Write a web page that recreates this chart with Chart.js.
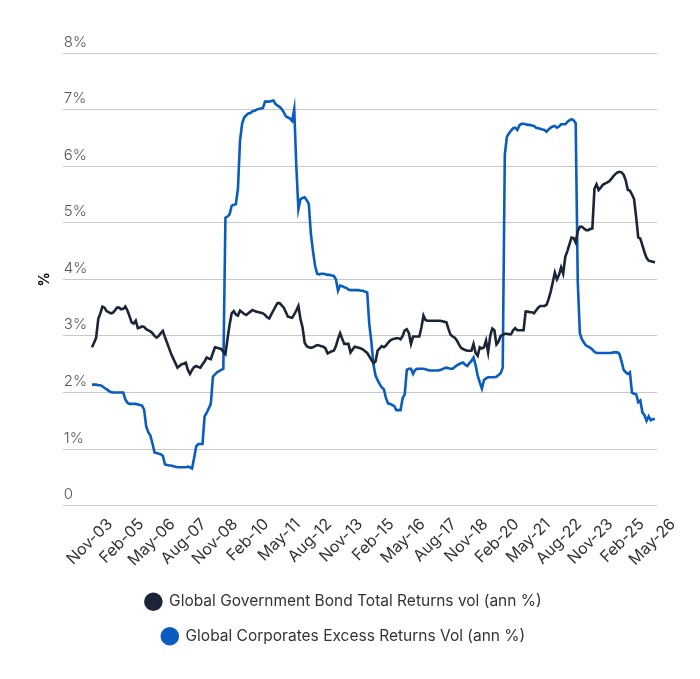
<!DOCTYPE html>
<html>
<head>
<meta charset="utf-8">
<script src="https://cdn.jsdelivr.net/npm/chart.js@4.4.1/dist/chart.umd.min.js"></script>
<style>
  html, body { margin: 0; padding: 0; background: #ffffff; }
  #wrap { width: 700px; height: 679px; position: relative; }
</style>
</head>
<body>
<div id="wrap"><canvas id="chart"></canvas></div>
<script>
// Monthly series, Nov-03 .. May-26 (271 months)
const xTickLabels = ['Nov-03','Feb-05','May-06','Aug-07','Nov-08','Feb-10','May-11','Aug-12','Nov-13','Feb-15','May-16','Aug-17','Nov-18','Feb-20','May-21','Aug-22','Nov-23','Feb-25','May-26'];
const xTickStep = 15; // months between tick labels
const yTickLabels = ['0','1%','2%','3%','4%','5%','6%','7%','8%'];
const seriesNames = ['Global Government Bond Total Returns vol (ann %)', 'Global Corporates Excess Returns Vol (ann %)'];

const govVol = [
  2.80,2.88,2.97,3.30,3.40,3.52,3.50,3.44,3.42,3.40,
  3.41,3.45,3.50,3.50,3.47,3.48,3.52,3.45,3.35,3.24,
  3.22,3.27,3.14,3.15,3.17,3.16,3.12,3.10,3.08,3.05,
  3.00,2.97,3.00,3.05,3.09,2.98,2.88,2.78,2.68,2.60,
  2.52,2.44,2.47,2.50,2.51,2.53,2.40,2.33,2.40,2.45,
  2.47,2.45,2.44,2.50,2.55,2.62,2.60,2.59,2.70,2.80,
  2.79,2.78,2.77,2.72,2.68,2.95,3.20,3.40,3.44,3.38,
  3.36,3.45,3.42,3.39,3.37,3.40,3.43,3.46,3.44,3.43,
  3.42,3.41,3.40,3.37,3.33,3.31,3.38,3.45,3.52,3.58,
  3.58,3.54,3.50,3.42,3.34,3.33,3.32,3.38,3.45,3.53,
  3.30,3.15,2.88,2.82,2.80,2.79,2.80,2.82,2.84,2.83,
  2.82,2.81,2.78,2.69,2.71,2.73,2.74,2.82,2.95,3.05,
  2.95,2.86,2.86,2.86,2.71,2.76,2.81,2.80,2.79,2.78,
  2.76,2.73,2.70,2.64,2.58,2.52,2.55,2.74,2.78,2.82,
  2.80,2.83,2.88,2.92,2.94,2.95,2.96,2.96,2.94,3.00,
  3.10,3.12,3.05,2.86,2.99,2.99,2.99,2.99,3.15,3.36,
  3.28,3.27,3.27,3.27,3.27,3.27,3.27,3.27,3.26,3.25,
  3.24,3.12,3.02,2.99,2.97,2.92,2.85,2.79,2.77,2.75,
  2.74,2.74,2.74,2.86,2.70,2.65,2.80,2.78,2.80,2.92,
  2.71,3.00,3.13,3.10,2.85,2.90,3.00,3.02,3.04,3.04,
  3.03,3.03,3.10,3.14,3.10,3.10,3.10,3.10,3.43,3.43,
  3.42,3.42,3.40,3.45,3.50,3.53,3.53,3.53,3.55,3.65,
  3.78,3.95,4.12,4.00,4.08,4.21,4.10,4.40,4.50,4.62,
  4.74,4.73,4.65,4.85,4.93,4.93,4.90,4.87,4.87,4.89,
  4.90,5.60,5.68,5.58,5.62,5.67,5.69,5.71,5.73,5.77,
  5.82,5.86,5.89,5.90,5.89,5.85,5.75,5.58,5.57,5.50,
  5.42,5.10,4.74,4.72,4.60,4.48,4.38,4.33,4.32,4.31,
  4.30
];

const corpVol = [
  2.14,2.14,2.14,2.13,2.13,2.11,2.08,2.06,2.03,2.01,
  2.00,2.00,2.00,2.00,2.00,2.00,1.88,1.82,1.80,1.80,
  1.80,1.80,1.79,1.78,1.77,1.70,1.40,1.30,1.24,1.10,
  0.94,0.93,0.92,0.91,0.88,0.73,0.72,0.71,0.71,0.70,
  0.69,0.68,0.68,0.68,0.68,0.68,0.69,0.68,0.66,0.85,
  1.05,1.09,1.09,1.09,1.58,1.64,1.72,1.80,2.28,2.32,
  2.36,2.38,2.40,2.42,5.09,5.11,5.15,5.30,5.32,5.33,
  5.60,6.45,6.75,6.86,6.90,6.93,6.94,6.97,6.98,7.00,
  7.01,7.02,7.03,7.14,7.14,7.14,7.15,7.16,7.10,7.07,
  7.05,7.01,6.95,6.88,6.86,6.84,6.80,7.01,6.00,5.24,
  5.42,5.44,5.45,5.40,5.33,4.80,4.50,4.24,4.10,4.09,
  4.10,4.10,4.09,4.08,4.08,4.07,4.06,4.00,3.80,3.89,
  3.88,3.86,3.85,3.82,3.81,3.81,3.81,3.81,3.81,3.80,
  3.80,3.78,3.77,3.21,2.90,2.50,2.30,2.22,2.15,2.09,
  2.06,1.90,1.81,1.80,1.78,1.76,1.69,1.69,1.69,1.90,
  1.97,2.40,2.42,2.42,2.33,2.40,2.42,2.42,2.42,2.42,
  2.41,2.40,2.39,2.39,2.39,2.39,2.39,2.40,2.41,2.43,
  2.44,2.43,2.42,2.42,2.45,2.48,2.50,2.52,2.53,2.49,
  2.47,2.52,2.56,2.62,2.48,2.30,2.18,2.07,2.22,2.25,
  2.27,2.27,2.27,2.27,2.28,2.31,2.34,2.44,6.20,6.52,
  6.58,6.63,6.67,6.68,6.64,6.72,6.75,6.75,6.74,6.73,
  6.73,6.72,6.71,6.68,6.67,6.66,6.65,6.64,6.61,6.65,
  6.68,6.70,6.71,6.68,6.70,6.74,6.74,6.74,6.78,6.81,
  6.83,6.81,6.76,3.95,3.05,2.94,2.88,2.83,2.81,2.79,
  2.76,2.72,2.70,2.70,2.70,2.70,2.70,2.70,2.70,2.70,
  2.71,2.71,2.71,2.68,2.55,2.40,2.36,2.33,2.36,2.00,
  1.98,1.97,1.83,1.86,1.65,1.60,1.50,1.58,1.51,1.53,
  1.53
];

const colors = ['#1b2537', '#0a5cbf'];
const FONT = 'Inter, "Noto Sans", sans-serif';

const toPoints = arr => arr.map((v, i) => ({ x: i, y: v }));

new Chart(document.getElementById('chart'), {
  type: 'line',
  data: {
    datasets: [
      { label: seriesNames[0], data: toPoints(govVol), borderColor: colors[0], backgroundColor: colors[0],
        borderWidth: 2.6, pointRadius: 0, pointHoverRadius: 0, tension: 0, pointStyle: 'circle' },
      { label: seriesNames[1], data: toPoints(corpVol), borderColor: colors[1], backgroundColor: colors[1],
        borderWidth: 2.6, pointRadius: 0, pointHoverRadius: 0, tension: 0, pointStyle: 'circle' }
    ]
  },
  options: {
    responsive: true,
    maintainAspectRatio: false,
    animation: false,
    layout: { padding: { left: 30, right: 43, top: 53, bottom: 25 } },
    plugins: {
      tooltip: { enabled: false },
      legend: {
        position: 'bottom',
        align: 'center',
        labels: {
          usePointStyle: true,
          pointStyle: 'circle',
          pointStyleWidth: 16,
          boxHeight: 11.3,
          padding: 19,
          color: '#333333',
          font: { family: FONT, size: 15.5 }
        }
      }
    },
    scales: {
      x: {
        type: 'linear',
        min: -14,
        max: 271,
        grid: { display: false },
        border: { display: false },
        afterBuildTicks: axis => { axis.ticks = xTickLabels.map((_, k) => ({ value: k * xTickStep })); },
        afterFit: axis => { axis.height += 4; },
        ticks: {
          autoSkip: false,
          minRotation: 45,
          maxRotation: 45,
          labelOffset: 18,
          padding: 1,
          color: '#333333',
          font: { family: FONT, size: 16 },
          callback: v => xTickLabels[Math.round(v / xTickStep)]
        }
      },
      y: {
        min: 0,
        max: 8,
        afterBuildTicks: axis => { axis.ticks = yTickLabels.map((_, k) => ({ value: k })); },
        grid: { color: '#c8c8c8', lineWidth: 1, drawTicks: false },
        border: { display: false },
        ticks: {
          mirror: true,
          padding: 1,
          labelOffset: -11,
          color: '#555555',
          font: { family: FONT, size: 15, weight: 300 },
          callback: v => yTickLabels[Math.round(v)]
        },
        title: {
          display: true,
          text: '%',
          color: '#111111',
          font: { family: FONT, size: 14, weight: 'bold' },
          padding: { top: 6, bottom: 8 }
        }
      }
    }
  }
});
</script>
</body>
</html>
